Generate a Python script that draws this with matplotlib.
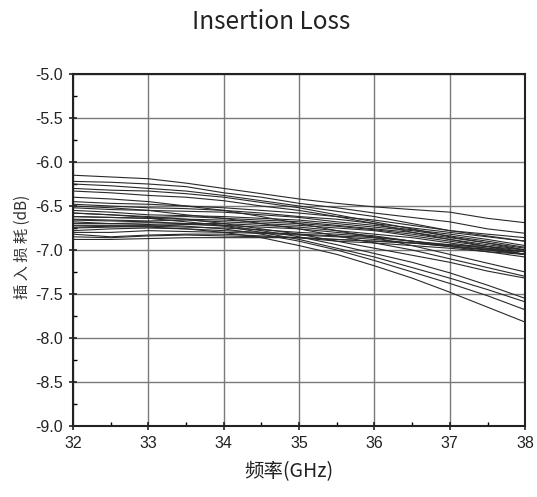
import matplotlib
matplotlib.use("Agg")
import matplotlib.pyplot as plt
from matplotlib.ticker import MultipleLocator

freq = [32, 32.5, 33, 33.5, 34, 34.5, 35, 35.5, 36, 36.5, 37, 37.5, 38]

curves = [
    [-6.15, -6.17, -6.19, -6.24, -6.30, -6.36, -6.42, -6.47, -6.51, -6.54, -6.57, -6.64, -6.69],
    [-6.22, -6.23, -6.25, -6.28, -6.35, -6.40, -6.47, -6.52, -6.58, -6.63, -6.68, -6.76, -6.81],
    [-6.25, -6.27, -6.30, -6.33, -6.38, -6.44, -6.50, -6.56, -6.62, -6.70, -6.78, -6.84, -6.90],
    [-6.30, -6.32, -6.33, -6.36, -6.40, -6.46, -6.52, -6.60, -6.68, -6.76, -6.85, -6.92, -7.00],
    [-6.33, -6.35, -6.38, -6.40, -6.44, -6.50, -6.55, -6.62, -6.70, -6.80, -6.88, -6.96, -7.05],
    [-6.45, -6.47, -6.48, -6.50, -6.52, -6.55, -6.58, -6.62, -6.66, -6.72, -6.78, -6.82, -6.86],
    [-6.48, -6.50, -6.52, -6.53, -6.55, -6.58, -6.62, -6.65, -6.70, -6.75, -6.80, -6.85, -6.90],
    [-6.52, -6.54, -6.55, -6.56, -6.57, -6.60, -6.63, -6.68, -6.72, -6.77, -6.82, -6.88, -6.95],
    [-6.55, -6.57, -6.60, -6.61, -6.62, -6.64, -6.66, -6.70, -6.74, -6.78, -6.84, -6.90, -6.97],
    [-6.58, -6.60, -6.63, -6.62, -6.64, -6.66, -6.68, -6.72, -6.76, -6.80, -6.86, -6.92, -6.98],
    [-6.62, -6.63, -6.64, -6.65, -6.66, -6.68, -6.70, -6.73, -6.77, -6.82, -6.88, -6.94, -7.00],
    [-6.65, -6.66, -6.67, -6.66, -6.68, -6.70, -6.72, -6.75, -6.78, -6.84, -6.90, -6.96, -7.02],
    [-6.68, -6.70, -6.69, -6.70, -6.70, -6.72, -6.74, -6.78, -6.82, -6.86, -6.92, -6.98, -7.05],
    [-6.72, -6.72, -6.72, -6.71, -6.72, -6.74, -6.76, -6.80, -6.84, -6.90, -6.96, -7.02, -7.08],
    [-6.75, -6.74, -6.73, -6.74, -6.75, -6.77, -6.80, -6.82, -6.85, -6.90, -6.95, -7.00, -7.05],
    [-6.78, -6.76, -6.75, -6.76, -6.78, -6.80, -6.82, -6.84, -6.86, -6.90, -6.94, -6.98, -7.02],
    [-6.80, -6.80, -6.78, -6.79, -6.80, -6.81, -6.83, -6.85, -6.88, -6.92, -6.96, -7.00, -7.05],
    [-6.82, -6.85, -6.83, -6.82, -6.82, -6.84, -6.86, -6.90, -6.92, -6.95, -6.98, -7.02, -7.05],
    [-6.85, -6.86, -6.84, -6.83, -6.84, -6.85, -6.86, -6.88, -6.90, -6.92, -6.96, -6.99, -7.02],
    [-6.88, -6.88, -6.87, -6.86, -6.86, -6.86, -6.86, -6.88, -6.90, -6.92, -6.94, -6.96, -7.00],
    [-6.40, -6.42, -6.45, -6.50, -6.55, -6.62, -6.70, -6.78, -6.86, -6.95, -7.05, -7.15, -7.25],
    [-6.50, -6.52, -6.55, -6.60, -6.64, -6.70, -6.76, -6.84, -6.92, -7.00, -7.10, -7.20, -7.30],
    [-6.58, -6.60, -6.62, -6.65, -6.70, -6.76, -6.82, -6.90, -6.98, -7.06, -7.14, -7.24, -7.32],
    [-6.62, -6.63, -6.64, -6.68, -6.72, -6.78, -6.85, -6.94, -7.04, -7.14, -7.26, -7.40, -7.55],
    [-6.66, -6.67, -6.68, -6.70, -6.73, -6.80, -6.88, -6.98, -7.08, -7.20, -7.32, -7.45, -7.59],
    [-6.70, -6.70, -6.71, -6.73, -6.76, -6.82, -6.90, -7.00, -7.12, -7.25, -7.38, -7.52, -7.68],
    [-6.74, -6.73, -6.74, -6.76, -6.80, -6.86, -6.95, -7.05, -7.18, -7.32, -7.48, -7.65, -7.82],
]

title = "Insertion Loss"
xlabel = "频率(GHz)"
ylabel = "插 入 损 耗 (dB)"

plt.rcParams['font.family'] = ['Liberation Sans', 'Noto Sans CJK SC', 'DejaVu Sans']

fig = plt.figure(figsize=(5.37, 4.97), dpi=100)
ax = fig.add_axes([0.136, 0.143, 0.842, 0.708])

for c in curves:
    ax.plot(freq, c, color='#2a2a2a', lw=0.8)

ax.set_xlim(32, 38)
ax.set_ylim(-9.0, -5.0)
ax.xaxis.set_major_locator(MultipleLocator(1))
ax.xaxis.set_minor_locator(MultipleLocator(0.5))
ax.yaxis.set_major_locator(MultipleLocator(0.5))
ax.yaxis.set_minor_locator(MultipleLocator(0.25))
ax.set_yticklabels([f"{v:.1f}" for v in ax.get_yticks()])
ax.grid(True, which='major', color='#7a7a7a', lw=1.0)
ax.set_axisbelow(True)
for s in ax.spines.values():
    s.set_linewidth(1.5)
    s.set_color('#222222')
ax.tick_params(which='major', direction='inout', length=6, width=1.2, labelsize=11.5,
               colors='#222222', top=False, right=False, pad=4)
ax.tick_params(which='minor', direction='in', length=3, width=1.0, top=False, right=False)

fig.text(0.505, 0.955, title, ha='center', va='center', fontsize=17.5,
         family=['Noto Sans CJK SC', 'DejaVu Sans'], fontweight='light', color='#222222')
fig.text(0.538, 0.052, xlabel, ha='center', va='center', fontsize=14,
         family=['Noto Sans CJK SC', 'DejaVu Sans'], fontweight='light', color='#222222')
fig.text(0.042, 0.503, ylabel, ha='center', va='center', rotation=90, fontsize=11,
         family=['Noto Sans CJK SC', 'DejaVu Sans'], color='#333333')

fig.savefig("out.png", dpi=100)
